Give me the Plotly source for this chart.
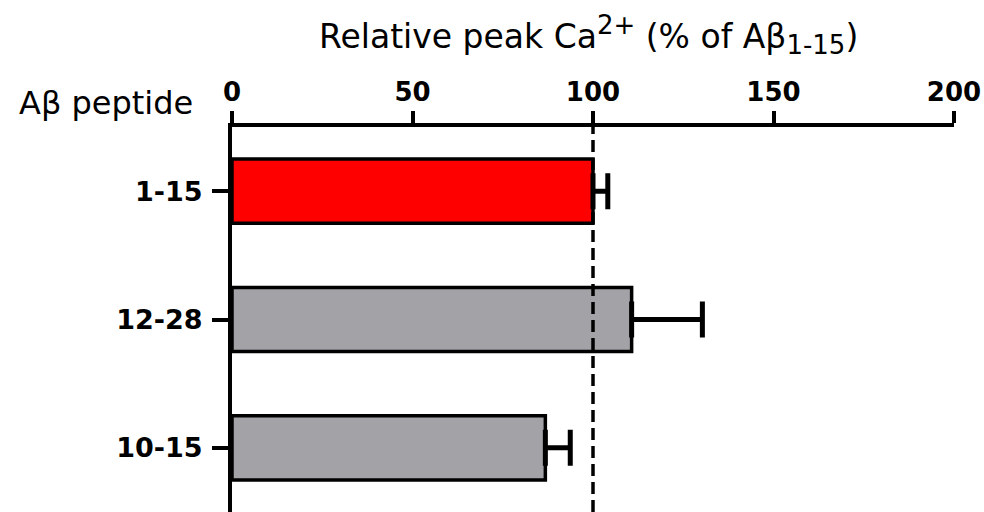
import plotly.graph_objects as go

peptides = ["1-15", "12-28", "10-15"]
relative_peak = [100, 110.7, 86.8]
sem_plus = [4.1, 19.6, 6.9]
bar_colors = ["#FF0000", "#A3A2A7", "#A3A2A7"]
x_ticks = [0, 50, 100, 150, 200]
reference_level = 100

fig = go.Figure()
fig.add_trace(go.Bar(
    y=peptides,
    x=relative_peak,
    orientation="h",
    width=0.5,
    marker=dict(color=bar_colors, line=dict(color="black", width=3.5)),
    error_x=dict(type="data", array=sem_plus, arrayminus=[0] * len(sem_plus),
                 symmetric=False, color="black", thickness=5, width=18),
    showlegend=False,
))

fig.add_shape(type="line", x0=reference_level, x1=reference_level, xref="x",
              y0=0, y1=1, yref="paper",
              line=dict(color="black", width=3.5, dash="12px,6px"))

font_family = "DejaVu Sans, Liberation Sans, Arial, sans-serif"
title_text = ("Relative peak Ca<sup><span style='font-size:26px'>2+</span></sup>"
              " (% of Aβ<sub><span style='font-size:26px'>1-15</span></sub>)")
fig.update_layout(
    width=984, height=512,
    margin=dict(l=232, r=30, t=127, b=0),
    plot_bgcolor="white", paper_bgcolor="white",
    font=dict(family=font_family, color="black"),
    title=dict(text=title_text,
               x=0.494, xref="paper", xanchor="center",
               y=1 - 36 / 512, yref="container", yanchor="middle",
               font=dict(size=33, family=font_family, color="black")),
    xaxis=dict(side="top", range=[0, 200], tickvals=x_ticks,
               showgrid=False, zeroline=False,
               showline=True, linecolor="black", linewidth=4,
               ticks="outside", ticklen=12, tickwidth=4, tickcolor="black",
               ticklabeloverflow="allow",
               tickfont=dict(size=26, weight="bold", family=font_family)),
    yaxis=dict(range=[2.5, -0.5], autorange=False, categoryorder="array",
               categoryarray=peptides,
               showgrid=False, zeroline=False,
               showline=True, linecolor="black", linewidth=4,
               ticks="outside", ticklen=16, tickwidth=4, tickcolor="black",
               ticklabelstandoff=4,
               tickfont=dict(size=27, weight="bold", family=font_family)),
    annotations=[dict(text="Aβ peptide", xref="paper", yref="paper",
                      x=-0.051, y=1.062, xanchor="right", yanchor="middle",
                      showarrow=False,
                      font=dict(size=32, family=font_family, color="black"))],
)

fig.write_html("out.html", config={"displayModeBar": False},
               post_script="document.body.style.margin='0';document.body.style.overflow='hidden';")
